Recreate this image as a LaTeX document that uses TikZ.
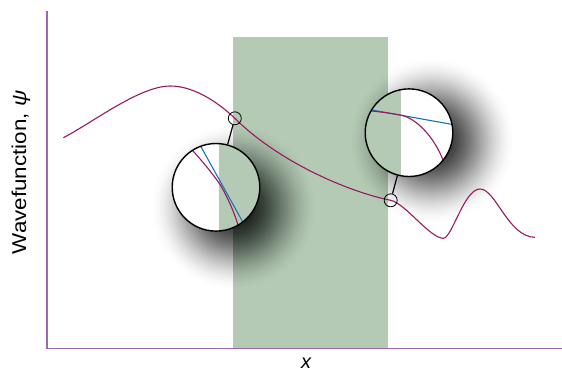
\documentclass[tikz,border=0pt]{standalone}
\usepackage{fontspec}
\setmainfont{Liberation Sans}
\usepackage{tikz}
\usetikzlibrary{calc}
\definecolor{lilac}{HTML}{9A6AAE}
\definecolor{plum}{HTML}{99195E}
\definecolor{blue}{HTML}{1A73B8}
\definecolor{sage}{HTML}{B4CAB5}
\tikzset{axis/.style={draw=lilac,line width=1.4pt},wavecurve/.style={draw=plum,line width=1.1pt},fitline/.style={draw=blue,line width=1.1pt},lens/.style={circle,draw=black,line width=1.4pt,minimum size=87.6pt,inner sep=0pt},spot/.style={circle,draw=black,line width=.8pt,minimum size=13pt,inner sep=0pt},link/.style={draw=black,line width=1.2pt},label/.style={font=\fontsize{20}{24}\selectfont}}

\begin{document}
\begin{tikzpicture}[x=1pt,y=1pt]
 \useasboundingbox (0,0) rectangle (562,373);
 \fill[sage] (233,24.7) rectangle (388,336);
 \coordinate (cA) at (216,185.7); \coordinate (cB) at (409,240.3);
 \foreach \r in {84,82,...,20} {\pgfmathsetmacro\op{0.0013*(85-\r)}
  \fill[black,opacity=\op] ($(cA)+(18,-20)$) circle (\r); \fill[black,opacity=\op] ($(cB)+(23,-8)$) circle (\r);}
 \draw[wavecurve] (63.4,235.3) .. controls (95,252) and (140,287) .. (170.3,287) .. controls (195,287) and (220,269) .. (234.8,254.7) .. controls (280,210) and (350,180.8) .. (390.7,172.7) .. controls (405,169.9) and (430,134.7) .. (443.3,134.7) .. controls (452,134.7) and (464,184) .. (480,184) .. controls (496,184) and (508,136) .. (535,135.7);
 \node[spot] (pA) at (234.8,254.7) {}; \node[spot] (pB) at (390.7,172.7) {};
 \fill[white] (cA) circle (43.8); \fill[white] (cB) circle (43.8);
 \begin{scope}
  \clip (cA) circle (43.8);
  \fill[sage] (219.3,140) rectangle (262,232);
  \draw[fitline] (190,246) -- (250,138);
  \draw[wavecurve] (187.3,228) .. controls (197.3,218) and (213.9,198) .. (220.3,188) .. controls (226.7,178) and (236.9,155) .. (239.2,143);
 \end{scope}
 \begin{scope}
  \clip (cB) circle (43.8);
  \fill[sage] (364,195) rectangle (400.7,285);
  \draw[fitline] (360,265.1) -- (456,247.9);
  \draw[wavecurve] (360,263) .. controls (380,261.5) and (392,259.5) .. (400.7,257.9) .. controls (415,255.3) and (438,236) .. (448,198);
 \end{scope}
 \node[lens] (lensA) at (cA) {}; \node[lens] (lensB) at (cB) {};
 \draw[link] (pA) -- (lensA); \draw[link] (pB) -- (lensB);
 \draw[axis] (47,362) -- (47,24.7) -- (562,24.7);
 \node[label,rotate=90] (ylab) at (21,200.5) {\scalebox{1.12}[1]{Wavefunction, \textit{ψ}}};
 \node[label,anchor=base,inner sep=0pt] (xlab) at (306.5,4.5) {\textit{x}};
\end{tikzpicture}
\end{document}
